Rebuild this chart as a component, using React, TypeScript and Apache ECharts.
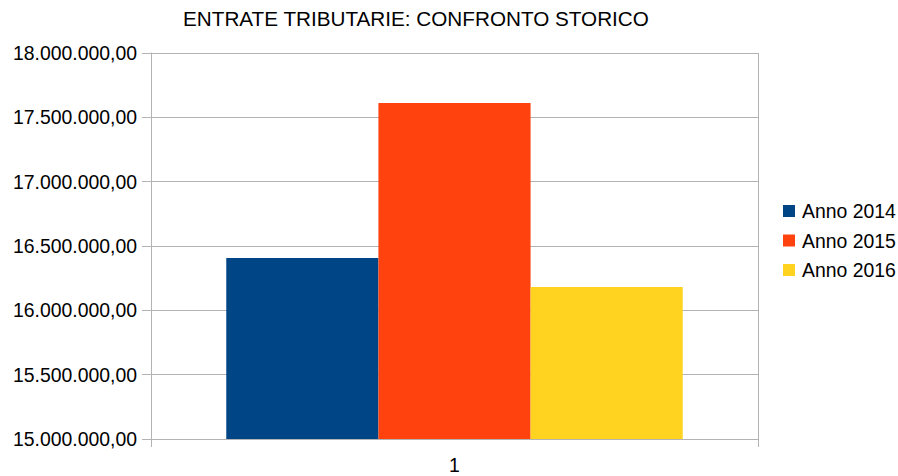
import React, { useEffect, useRef } from "react";
import * as echarts from "echarts";

const categories = ["1"];
const seriesNames = ["Anno 2014", "Anno 2015", "Anno 2016"];
const values2014 = [16407000];
const values2015 = [17611000];
const values2016 = [16181000];
const colors = ["#004586", "#ff420e", "#ffd320"];

const fmt = (v: number) => {
  const parts = v.toFixed(2).split(".");
  const intPart = parts[0].replace(/\B(?=(\d{3})+(?!\d))/g, ".");
  return intPart + "," + parts[1];
};

export default function App() {
  const ref = useRef<HTMLDivElement>(null);
  useEffect(() => {
    if (!ref.current) return;
    const chart = echarts.init(ref.current, null, { renderer: "svg" });
    const font = "'Liberation Sans', Arial, sans-serif";
    const dataSets = [values2014, values2015, values2016];
    chart.setOption({
      animation: false,
      backgroundColor: "#ffffff",
      textStyle: { fontFamily: font },
      title: {
        text: "ENTRATE TRIBUTARIE: CONFRONTO STORICO",
        left: 178,
        top: 3,
        textStyle: { fontFamily: font, fontSize: 20.7, fontWeight: "normal", color: "#000000" },
      },
      legend: {
        orient: "vertical",
        left: 783,
        top: 201,
        padding: 0,
        itemWidth: 12,
        itemHeight: 12,
        itemGap: 9.5,
        icon: "rect",
        textStyle: { fontFamily: font, fontSize: 19.4, lineHeight: 20, color: "#000000", padding: [0, 0, 0, 2] },
        data: seriesNames,
      },
      grid: { left: 151, right: 140, top: 53, bottom: 37, containLabel: false },
      xAxis: {
        type: "category",
        data: categories,
        axisLine: { lineStyle: { color: "#b3b3b3", width: 1 } },
        axisTick: { show: true, length: 8, lineStyle: { color: "#b3b3b3" } },
        splitLine: { show: true, lineStyle: { color: "#b3b3b3", width: 1 } },
        axisLabel: { color: "#000000", fontSize: 19.4, fontFamily: font, margin: 16 },
      },
      yAxis: {
        type: "value",
        min: 15000000,
        max: 18000000,
        interval: 500000,
        axisLine: { show: true, lineStyle: { color: "#b3b3b3", width: 1 } },
        axisTick: { show: true, length: 9, lineStyle: { color: "#b3b3b3" } },
        splitLine: { show: true, lineStyle: { color: "#b3b3b3", width: 1 } },
        axisLabel: { color: "#000000", fontSize: 19.4, fontFamily: font, margin: 14, formatter: fmt },
      },
      series: seriesNames.map((name, i) => ({
        name,
        type: "bar",
        data: dataSets[i],
        itemStyle: { color: colors[i] },
        barGap: "0%",
        barCategoryGap: "24.8%",
      })),
    });
    return () => chart.dispose();
  }, []);
  return <div ref={ref} style={{ width: 898, height: 476, position: "absolute", left: 0, top: 0 }} />;
}
